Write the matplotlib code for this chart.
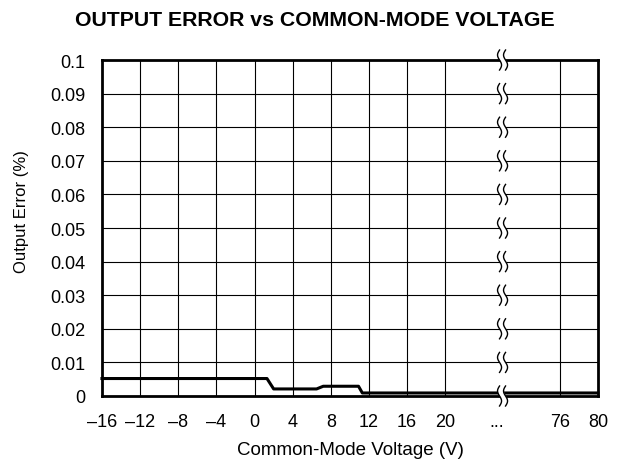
import numpy as np
import matplotlib.pyplot as plt

plt.rcParams['font.family'] = ['Liberation Sans', 'DejaVu Sans']

# Data
voltage = [-16, 1.3, 2.0, 6.5, 7.2, 10.9, 11.3, 20, 76, 80]
error = [0.0052, 0.0052, 0.0021, 0.0021, 0.0029, 0.0029, 0.0009, 0.0009, 0.0009, 0.0009]

tick_values = [-16, -12, -8, -4, 0, 4, 8, 12, 16, 20, None, 76, 80]
tick_labels = ['–16', '–12', '–8', '–4', '0', '4', '8', '12', '16', '20', '...', '76', '80']
y_ticks = [0, 0.01, 0.02, 0.03, 0.04, 0.05, 0.06, 0.07, 0.08, 0.09, 0.1]
y_labels = ['0', '0.01', '0.02', '0.03', '0.04', '0.05', '0.06', '0.07', '0.08', '0.09', '0.1']

BREAK = 10.5


def to_pos(v):
    # broken axis: -16..20 then 76..80, each 4 V one unit
    v = np.asarray(v, dtype=float)
    return np.where(v <= 20, (v + 16) / 4, 12 + (v - 76) / 4)


fig = plt.figure(figsize=(6.18, 4.64), dpi=100)
ax = fig.add_axes([0.165, 0.1444, 0.8025, 0.7241])

ax.set_xlim(0, 13)
ax.set_ylim(0, 0.1)

# grid
for v in [-12, -8, -4, 0, 4, 8, 12, 16, 20, 76]:
    ax.axvline(to_pos(v), color='black', lw=0.8, zorder=1)
for y in y_ticks[1:-1]:
    ax.axhline(y, color='black', lw=0.8, zorder=1)

ax.plot(to_pos(voltage), error, color='black', lw=2.2, zorder=3,
        solid_joinstyle='round', clip_on=False)

# break marks
px_x = 13 / 496
px_y = 0.1 / 336
t = np.linspace(-1, 1, 40)
for y in y_ticks:
    yy = y + t * 10 * px_y
    wiggle = -2 * np.sin(np.pi * t) * px_x
    x1 = BREAK - 3 * px_x + wiggle
    x2 = BREAK + 3 * px_x + wiggle
    ax.fill_betweenx(yy, x1, x2, color='white', zorder=5, clip_on=False, lw=0)
    ax.plot(x1, yy, color='black', lw=1.0, zorder=6, clip_on=False)
    ax.plot(x2, yy, color='black', lw=1.0, zorder=6, clip_on=False)

xt = [to_pos(v) if v is not None else BREAK - 0.15 for v in tick_values]
ax.set_xticks(xt)
ax.set_xticklabels(tick_labels, fontsize=13)
ax.set_yticks(y_ticks)
ax.set_yticklabels(y_labels, fontsize=13)
ax.tick_params(axis='both', length=0)
ax.tick_params(axis='x', pad=12)
ax.tick_params(axis='y', pad=12)

for s in ax.spines.values():
    s.set_linewidth(2)
    s.set_zorder(4)

ax.set_xlabel('Common-Mode Voltage (V)', fontsize=13.5, labelpad=8)
ax.set_ylabel('Output Error (%)', fontsize=12)
ax.yaxis.set_label_coords(-0.148, 0.552)
fig.text(0.51, 1 - 20 / 464, 'OUTPUT ERROR vs COMMON-MODE VOLTAGE',
         fontsize=15.3, fontweight='bold', ha='center', va='center')

fig.savefig('out.png', dpi=100)
